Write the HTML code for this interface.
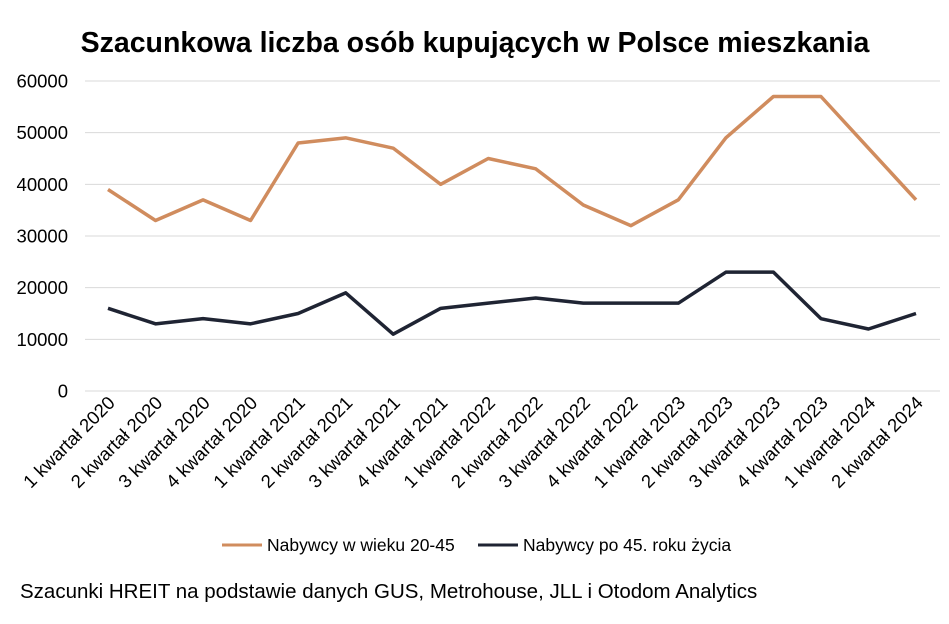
<!DOCTYPE html>
<html><head><meta charset="utf-8"><style>
body{margin:0;background:#fff;font-family:"Liberation Sans",Arial,sans-serif}
svg text{font-family:"Liberation Sans",Arial,sans-serif}
</style></head><body>
<svg id="c" width="949" height="619">
<text x="475" y="52" text-anchor="middle" font-size="28.5" font-weight="bold" fill="#000">Szacunkowa liczba osób kupujących w Polsce mieszkania</text>
<g id="grid"></g><g id="xl"></g><g id="lines"></g>
<g>
<line x1="222" y1="545" x2="262" y2="545" stroke="#D08C5E" stroke-width="3"/>
<text x="267" y="551" font-size="17.5">Nabywcy w wieku 20-45</text>
<line x1="478" y1="545" x2="518" y2="545" stroke="#1F2433" stroke-width="3"/>
<text x="523" y="551" font-size="17.5">Nabywcy po 45. roku życia</text>
</g>
<text x="20" y="598" font-size="20.5">Szacunki HREIT na podstawie danych GUS, Metrohouse, JLL i Otodom Analytics</text>
</svg>
<script>
const categories=["1 kwartał 2020","2 kwartał 2020","3 kwartał 2020","4 kwartał 2020","1 kwartał 2021","2 kwartał 2021","3 kwartał 2021","4 kwartał 2021","1 kwartał 2022","2 kwartał 2022","3 kwartał 2022","4 kwartał 2022","1 kwartał 2023","2 kwartał 2023","3 kwartał 2023","4 kwartał 2023","1 kwartał 2024","2 kwartał 2024"];
const young=[39000,33000,37000,33000,48000,49000,47000,40000,45000,43000,36000,32000,37000,49000,57000,57000,47000,37000];
const older=[16000,13000,14000,13000,15000,19000,11000,16000,17000,18000,17000,17000,17000,23000,23000,14000,12000,15000];
const yTicks=[0,10000,20000,30000,40000,50000,60000];
const NS="http://www.w3.org/2000/svg";
const x=i=>108+i*(808/17);
const y=v=>391-v/60000*310;
function mk(t,a,p){const e=document.createElementNS(NS,t);for(const k in a)e.setAttribute(k,a[k]);p.appendChild(e);return e;}
const g=document.getElementById('grid');
yTicks.forEach(v=>{
const l=mk('line',{x1:85,x2:940,y1:y(v),y2:y(v),stroke:'#d9d9d9','stroke-width':1},g);


const t=mk('text',{x:68,y:y(v)+6.5,'text-anchor':'end','font-size':18.5},g);t.textContent=v;


});
const xl=document.getElementById('xl');
categories.forEach((c,i)=>{
const t=mk('text',{x:0,y:0,'text-anchor':'end','font-size':18.5,transform:`translate(${x(i)+8},${404}) rotate(-45)`},xl);t.textContent=c;


});
const L=document.getElementById('lines');
[[young,'#D08C5E','line-20-45'],[older,'#1F2433','line-45plus']].forEach(([d,col,n])=>{
const p=mk('polyline',{points:d.map((v,i)=>x(i)+','+y(v)).join(' '),fill:'none',stroke:col,'stroke-width':3.5,'stroke-linejoin':'round'},L);


});
</script>
</body></html>
